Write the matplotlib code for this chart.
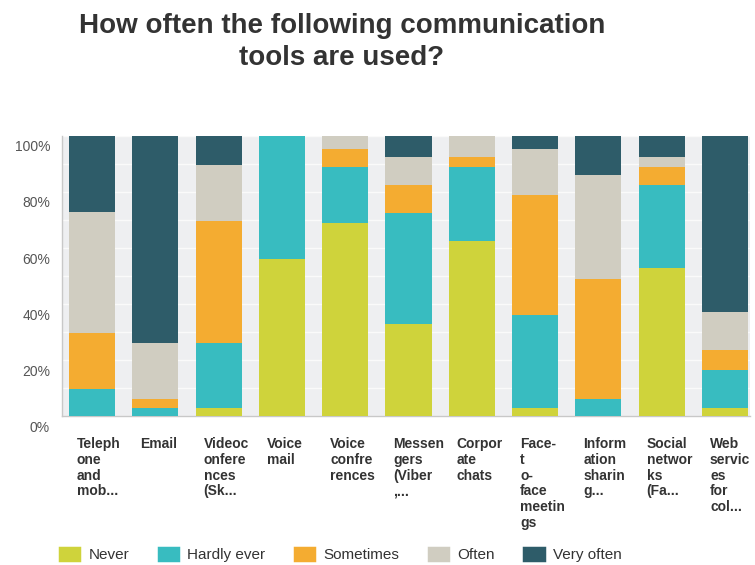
import matplotlib
matplotlib.use("Agg")
import matplotlib.pyplot as plt
import matplotlib.transforms as mtransforms
from matplotlib.patches import Patch
from matplotlib.ticker import FuncFormatter, MultipleLocator

plt.rcParams["font.family"] = ["Liberation Sans", "DejaVu Sans"]

tools = [
    "Teleph\none\nand\nmob...",
    "Email",
    "Videoc\nonfere\nnces\n(Sk...",
    "Voice\nmail",
    "Voice\nconfre\nrences",
    "Messen\ngers\n(Viber\n,...",
    "Corpor\nate\nchats",
    "Face-\nt\no-\nface\nmeetin\ngs",
    "Inform\nation\nsharin\ng...",
    "Social\nnetwor\nks\n(Fa...",
    "Web\nservic\nes\nfor\ncol...",
]

# share of answers per tool, in percent
never = [0, 0, 3, 56, 69, 33, 62.5, 3, 0, 53, 3]
hardly_ever = [9.5, 3, 23, 44, 20, 39.5, 26.5, 33, 6, 29.5, 13.5]
sometimes = [20, 3, 43.5, 0, 6.5, 10, 3.5, 43, 43, 6.5, 7]
often = [43.5, 20, 20, 0, 4.5, 10, 7.5, 16.5, 37, 3.5, 13.5]
very_often = [27, 74, 10.5, 0, 0, 7.5, 0, 4.5, 14, 7.5, 63]

answers = ["Never", "Hardly ever", "Sometimes", "Often", "Very often"]
colors = ["#cfd33b", "#38bcc0", "#f4ac31", "#d0cdc1", "#2e5c69"]

fig = plt.figure(figsize=(7.55, 5.65), dpi=100)
ax = fig.add_axes([0.0821, 0.2637, 0.9113, 0.4956])
ax.set_facecolor("#eeeff1")

x = list(range(len(tools)))
bottom = [0.0] * len(tools)
for vals, color in zip([never, hardly_ever, sometimes, often, very_often], colors):
    ax.bar(x, vals, bottom=bottom, width=0.727, color=color, zorder=3)
    bottom = [b + v for b, v in zip(bottom, vals)]

ax.set_xlim(-0.474, 10.395)
ax.set_ylim(0, 100)
ax.yaxis.set_major_locator(MultipleLocator(20))
ax.yaxis.set_minor_locator(MultipleLocator(10))
ax.yaxis.set_major_formatter(FuncFormatter(lambda v, _: f"{v:.0f}%"))
ax.grid(axis="y", which="both", color="#fafafa", linewidth=1.0, zorder=1)

for side in ["top", "right"]:
    ax.spines[side].set_visible(False)
for side in ["left", "bottom"]:
    ax.spines[side].set_color("#c8c8c8")
    ax.spines[side].set_linewidth(1.0)

ax.tick_params(axis="y", which="both", length=0, pad=8.6, labelsize=10,
               labelcolor="#555555")
ax.set_xticks(x)
ax.set_xticklabels(tools, ha="left", fontsize=10, fontweight="bold",
                   color="#333333", linespacing=1.17)
ax.tick_params(axis="x", length=0, pad=15)

# y labels sit a little below their gridline, x labels start near the bar's left edge
down = mtransforms.ScaledTranslation(0, -10 / 100, fig.dpi_scale_trans)
for lbl in ax.get_yticklabels():
    lbl.set_transform(lbl.get_transform() + down)
left = mtransforms.ScaledTranslation(-15 / 100, 0, fig.dpi_scale_trans)
for lbl in ax.get_xticklabels():
    lbl.set_transform(lbl.get_transform() + left)

fig.text(0.453, 1 - 33 / 565, "How often the following communication",
         ha="center", va="baseline", fontsize=20, fontweight="bold", color="#333333")
fig.text(0.453, 1 - 65 / 565, "tools are used?",
         ha="center", va="baseline", fontsize=20, fontweight="bold", color="#333333")

handles = [Patch(facecolor=c, edgecolor=c, linewidth=2.5, joinstyle="round")
           for c in colors]
fig.legend(handles, answers, loc="center left", bbox_to_anchor=(60 / 755, 10 / 565),
           ncol=5, frameon=False, fontsize=11, handlelength=1.25, handleheight=0.9,
           handletextpad=0.6, columnspacing=1.95, borderpad=0, borderaxespad=0,
           labelcolor="#333333")

fig.savefig("out.png", dpi=100)
